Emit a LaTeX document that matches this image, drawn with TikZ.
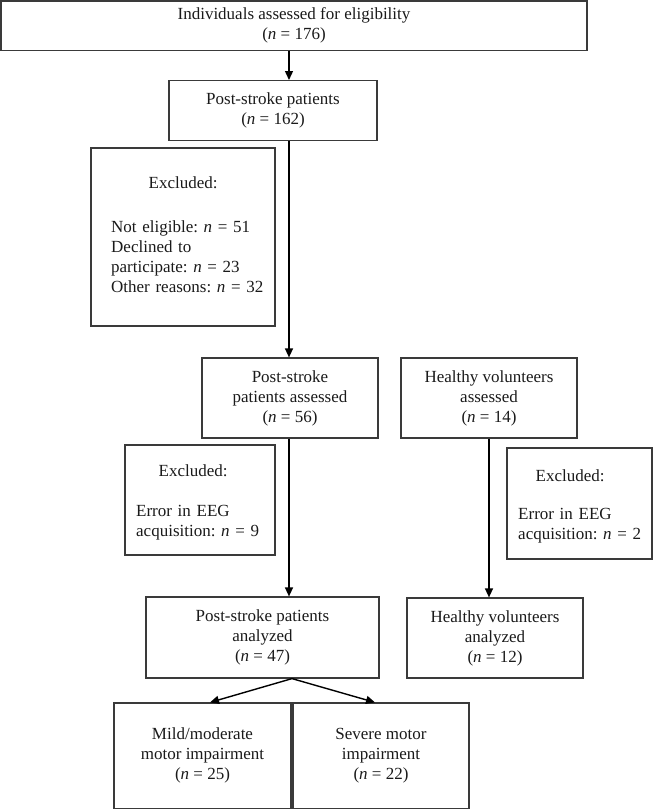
\documentclass[tikz,border=0pt]{standalone}
\usepackage{fontspec}
\setmainfont{Liberation Serif}
\usetikzlibrary{arrows.meta}
\definecolor{boxc}{HTML}{3A3A3A}
\definecolor{txtc}{HTML}{1A1A1A}
\newcommand{\nn}{\textit{n}}
\frenchspacing
\begin{document}
\begin{tikzpicture}[x=1pt,y=-1pt,
  box/.style={draw=boxc, line width=1.2pt, rectangle, inner sep=0pt, align=center,
    font=\fontsize{17}{20}\selectfont, text=txtc},
  extext/.style={inner sep=0pt, align=left, anchor=west,
    font=\fontsize{17}{20}\selectfont, text=txtc},
  arr/.style={line width=1.4pt, -{Triangle[length=9pt,width=8pt]}},
]
\useasboundingbox (0,0) rectangle (657,809);

\node[box, minimum width=586pt, minimum height=49.5pt] (b1) at (294,25.75)
  {Individuals assessed for eligibility\\(\nn{} = 176)};
\node[box, minimum width=208pt, minimum height=60pt] (b2) at (273,110.6)
  {Post-stroke patients\\(\nn{} = 162)};
\node[box, minimum width=184pt, minimum height=178pt] (ex1) at (183,237) {};
\node[extext, text width=160pt] (ex1t) at (111,234.5)
  {\makebox[144pt][c]{Excluded:}\\[24pt]Not eligible: \nn{} = 51\\Declined to\\participate: \nn{} = 23\\Other reasons: \nn{} = 32};
\node[box, minimum width=176pt, minimum height=80pt] (b3) at (290,398)
  {Post-stroke\\patients assessed\\(\nn{} = 56)};
\node[box, minimum width=176pt, minimum height=80pt] (hv1) at (489,398)
  {Healthy volunteers\\assessed\\(\nn{} = 14)};
\node[box, minimum width=150pt, minimum height=110pt] (ex2) at (200,500) {};
\node[extext, text width=135pt] (ex2t) at (136,502)
  {\makebox[114pt][c]{Excluded:}\\[20pt]Error in EEG\\acquisition: \nn{} = 9};
\node[box, minimum width=145pt, minimum height=111pt] (ex3) at (579.5,503.5) {};
\node[extext, text width=132pt] (ex3t) at (518,506)
  {\makebox[104pt][c]{Excluded:}\\[18pt]Error in EEG\\acquisition: \nn{} = 2};
\node[box, minimum width=233pt, minimum height=81pt] (b4) at (262.5,637.5)
  {Post-stroke patients\\analyzed\\(\nn{} = 47)};
\node[box, minimum width=176pt, minimum height=80pt] (hv2) at (495,638)
  {Healthy volunteers\\analyzed\\(\nn{} = 12)};
\node[box, minimum width=177pt, minimum height=105.5pt] (mild) at (202.5,755.75)
  {Mild/moderate\\motor impairment\\(\nn{} = 25)};
\node[box, minimum width=176pt, minimum height=105.5pt] (sev) at (381,755.75)
  {Severe motor\\impairment\\(\nn{} = 22)};

\coordinate (xa) at (289,0);
\coordinate (xb) at (489,0);
\coordinate (xc) at (292,0);
\coordinate (xm) at (210,0);
\coordinate (xs) at (375,0);

\draw[arr] (b1.south -| xa) -- (b2.north -| xa);
\draw[arr] (b2.south -| xa) -- (b3.north -| xa);
\draw[arr] (b3.south -| xa) -- (b4.north -| xa);
\draw[arr] (hv1.south -| xb) -- (hv2.north -| xb);
\draw[arr] (b4.south -| xc) -- (mild.north -| xm);
\draw[arr] (b4.south -| xc) -- (sev.north -| xs);
\end{tikzpicture}
\end{document}
